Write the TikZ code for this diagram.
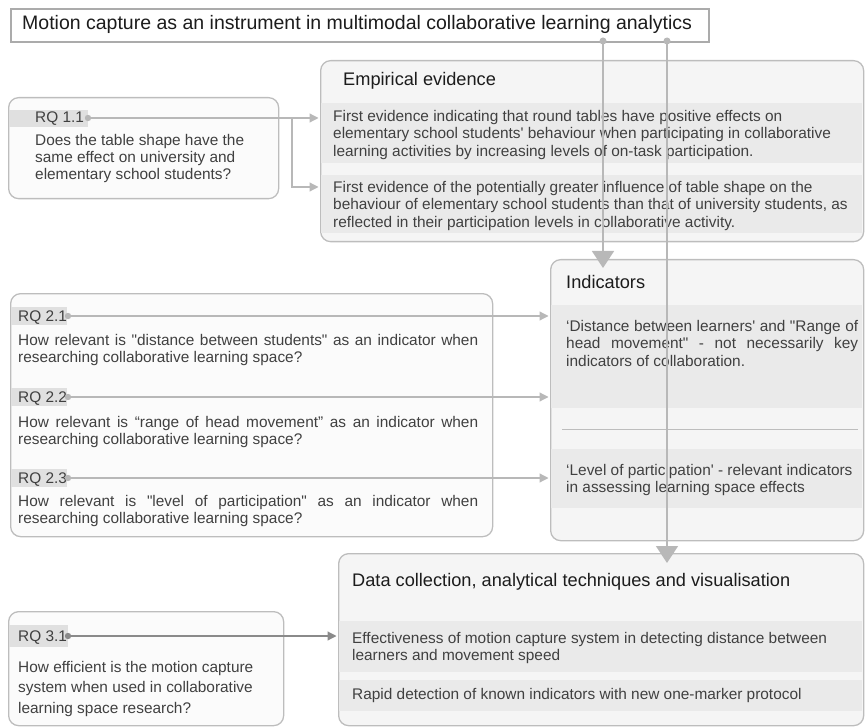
\documentclass[tikz,border=0pt]{standalone}
\usepackage{fontspec}
\setmainfont{Liberation Sans}[Ligatures=TeXOff]
\usetikzlibrary{arrows.meta}

\definecolor{boxline}{HTML}{BDBDBD}
\definecolor{titleline}{HTML}{ABABAB}
\definecolor{panelfill}{HTML}{F5F5F5}
\definecolor{qfill}{HTML}{FBFBFB}
\definecolor{bandfill}{HTML}{EAEAEA}
\definecolor{tagfill}{HTML}{E0E0E0}
\definecolor{wirec}{HTML}{B8B8B8}
\definecolor{darkwire}{HTML}{8A8A8A}
\definecolor{txt}{HTML}{404040}
\definecolor{head}{HTML}{1C1C1C}

\newcommand{\jline}[2]{\makebox[#1][s]{\strut #2}}

\begin{document}
\begin{tikzpicture}[x=1pt,y=-1pt,
  panel/.style={draw=boxline, line width=1.3pt, fill=panelfill, rounded corners=10pt,
    anchor=north west, inner sep=0pt},
  qbox/.style={panel, fill=qfill},
  band/.style={fill=bandfill},
  tag/.style={fill=tagfill},
  body/.style={inner sep=0pt, anchor=north west, align=left, text=txt,
    font=\fontsize{15.4}{17.5}\selectfont},
  label/.style={inner sep=0pt, anchor=base west, text=txt,
    font=\fontsize{15.4}{17.5}\selectfont},
  heading/.style={inner sep=0pt, anchor=base west, text=head,
    font=\fontsize{18.2}{22}\selectfont},
  wire/.style={draw=wirec, line width=1.2pt},
  sidearrow/.style={wire, -{Triangle[width=9pt,length=9pt]}, shorten >=1.5pt},
  bigarrow/.style={draw=wirec, line width=1.6pt, -{Triangle[width=22pt,length=17pt]}},
  dot/.style={fill=wirec}
]
\useasboundingbox (0,0) rectangle (867,727);

% ---------- title ----------
\node[draw=titleline, line width=2pt, fill=white, anchor=north west, inner sep=0pt,
      minimum width=698pt, minimum height=33pt] (title) at (10,8) {};
\node[inner sep=0pt, anchor=base west, text=head, font=\fontsize{19.5}{23}\selectfont]
  (titletext) at (22,30) {Motion capture as an instrument in multimodal collaborative learning analytics};

% ---------- empirical evidence ----------
\node[panel, minimum width=543pt, minimum height=181pt] (emp) at (320,60) {};
\fill[band] (320.7,103) rectangle (862.3,163);
\fill[band] (320.7,175) rectangle (862.3,233);
\node[heading] (emptitle) at (343,86) {Empirical evidence};
\node[body] (emp1) at (333,108.75) {\strut First evidence indicating that round tables have positive effects on\\
\strut elementary school students' behaviour when participating in collaborative\\
\strut learning activities by increasing levels of on-task participation.};
\node[body] (emp2) at (333,179.75) {\strut First evidence of the potentially greater influence of table shape on the\\
\strut behaviour of elementary school students than that of university students, as\\
\strut reflected in their participation levels in collaborative activity.};

% ---------- RQ 1.1 ----------
\node[qbox, minimum width=270pt, minimum height=101pt] (rq1) at (8,97) {};
\fill[tag] (8.7,110) rectangle (88,127);
\node[label] (rq1tag) at (35,123) {RQ 1.1};
\node[body, font=\fontsize{15.4}{17}\selectfont] (rq1q) at (35,133.1) {\strut Does the table shape have the\\
\strut same effect on university and\\
\strut elementary school students?};
\coordinate (d11) at (88,118);
\coordinate (fork) at (292,118);
\coordinate (low) at (292,187);

% ---------- indicators ----------
\node[panel, minimum width=313pt, minimum height=281pt] (ind) at (550,259) {};
\fill[band] (550.7,305) rectangle (862.3,408);
\fill[band] (550.7,449) rectangle (862.3,508);
\node[heading] (indtitle) at (566,288) {Indicators};
\node[body] (ind1) at (566,318.75) {\jline{292pt}{‘Distance between learners' and "Range of}\\
\jline{292pt}{head movement" - not necessarily key}\\
\strut indicators of collaboration.};
\draw[boxline, line width=1pt] (562,429) -- (858,429);
\node[body] (ind2) at (566,462.75) {\strut ‘Level of participation' - relevant indicators\\
\strut in assessing learning space effects};

% ---------- RQ 2.x ----------
\node[qbox, minimum width=482pt, minimum height=243pt] (rq2) at (10,293) {};
\fill[tag] (10.7,307) rectangle (67,325);
\fill[tag] (10.7,388) rectangle (67,406);
\fill[tag] (10.7,469) rectangle (67,487);
\node[label] (rq21tag) at (18,321) {RQ 2.1};
\node[label] (rq22tag) at (18,402) {RQ 2.2};
\node[label] (rq23tag) at (18,483) {RQ 2.3};
\node[body] (rq21q) at (18,332.75) {\jline{460pt}{How relevant is "distance between students" as an indicator when}\\
\strut researching collaborative learning space?};
\node[body] (rq22q) at (18,414.75) {\jline{460pt}{How relevant is “range of head movement” as an indicator when}\\
\strut researching collaborative learning space?};
\node[body] (rq23q) at (18,493.75) {\jline{460pt}{How relevant is "level of participation" as an indicator when}\\
\strut researching collaborative learning space?};
\coordinate (d21) at (68,316);
\coordinate (d22) at (68,397);
\coordinate (d23) at (68,478);

% ---------- data collection ----------
\node[panel, minimum width=525pt, minimum height=172pt] (data) at (338,553) {};
\fill[band] (338.7,621) rectangle (862.3,672);
\fill[band] (338.7,680) rectangle (862.3,711);
\node[heading] (datatitle) at (352,586) {Data collection, analytical techniques and visualisation};
\node[body] (data1) at (352,630.75) {\strut Effectiveness of motion capture system in detecting distance between\\
\strut learners and movement speed};
\node[body] (data2) at (352,686.75) {\strut Rapid detection of known indicators with new one-marker protocol};

% ---------- RQ 3.1 ----------
\node[qbox, minimum width=275pt, minimum height=114pt] (rq3) at (8,611) {};
\fill[tag] (8.7,625) rectangle (68,647);
\node[label] (rq31tag) at (18,641) {RQ 3.1};
\node[body, font=\fontsize{15.4}{20.5}\selectfont] (rq3q) at (18,657.65) {\strut How efficient is the motion capture\\
\strut system when used in collaborative\\
\strut learning space research?};
\coordinate (d31) at (68,636);

% ---------- connectors ----------
\draw[sidearrow] (d11) -- (emp.west |- d11);
\draw[sidearrow] (fork) -- (low) -- (emp.west |- low);
\fill[dot] (d11) circle (3.2pt);

\draw[sidearrow] (d21) -- (ind.west |- d21);
\draw[sidearrow] (d22) -- (ind.west |- d22);
\draw[sidearrow] (d23) -- (ind.west |- d23);
\fill[dot] (d21) circle (3.2pt);
\fill[dot] (d22) circle (3.2pt);
\fill[dot] (d23) circle (3.2pt);

\draw[sidearrow, draw=darkwire, fill=darkwire] (d31) -- (data.west |- d31);
\fill[darkwire] (d31) circle (3.2pt);

\coordinate (tapA) at (603,41);
\coordinate (tapB) at (667,41);
\draw[bigarrow] (tapA) -- ([yshift=-9pt]tapA |- ind.north);
\draw[bigarrow] (tapB) -- ([yshift=-10pt]tapB |- data.north);
\fill[dot] (tapA) circle (3.5pt);
\fill[dot] (tapB) circle (3.5pt);
\end{tikzpicture}
\end{document}
